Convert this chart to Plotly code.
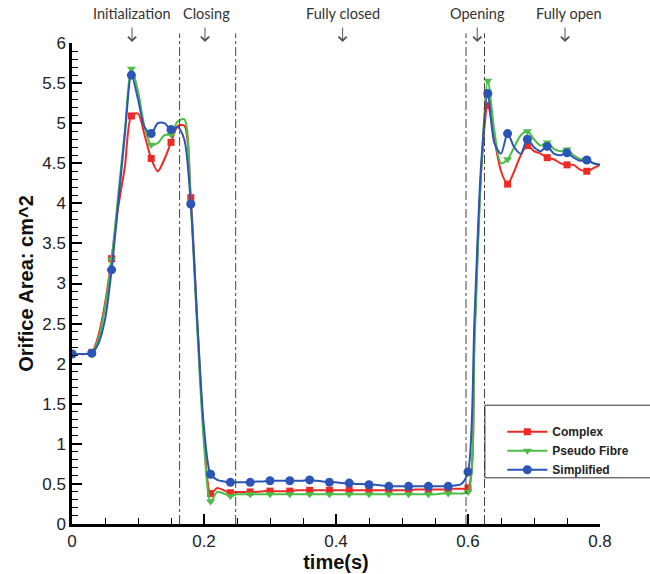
import plotly.graph_objects as go

# ---- data ----
time_s = [round(i * 0.01, 2) for i in range(81)]

complex_area = [
    2.12, 2.12, 2.12, 2.14, 2.35, 2.75, 3.31, 3.95, 4.45, 5.09,
    5.12, 4.85, 4.56, 4.40, 4.55, 4.76, 4.96, 4.97, 4.07, 2.50,
    1.10, 0.38, 0.45, 0.42, 0.39, 0.40, 0.40, 0.40, 0.40, 0.41,
    0.41, 0.41, 0.41, 0.41, 0.42, 0.42, 0.42, 0.42, 0.42, 0.42,
    0.42, 0.42, 0.42, 0.42, 0.42, 0.42, 0.42, 0.42, 0.42, 0.42,
    0.42, 0.42, 0.43, 0.43, 0.43, 0.43, 0.43, 0.43, 0.44, 0.44,
    0.45, 2.40, 4.40, 5.22, 4.80, 4.40, 4.24, 4.40, 4.60, 4.72,
    4.65, 4.62, 4.57, 4.55, 4.50, 4.48, 4.48, 4.42, 4.40, 4.44,
    4.48,
]

pseudo_fibre_area = [
    2.12, 2.12, 2.12, 2.13, 2.30, 2.70, 3.30, 4.10, 4.90, 5.68,
    5.40, 4.95, 4.73, 4.75, 4.85, 4.86, 5.02, 5.05, 4.00, 2.40,
    1.00, 0.28, 0.40, 0.38, 0.35, 0.37, 0.37, 0.37, 0.37, 0.37,
    0.37, 0.37, 0.37, 0.37, 0.37, 0.37, 0.37, 0.37, 0.37, 0.37,
    0.37, 0.37, 0.37, 0.37, 0.37, 0.37, 0.37, 0.37, 0.37, 0.37,
    0.37, 0.37, 0.37, 0.37, 0.37, 0.37, 0.38, 0.38, 0.38, 0.38,
    0.40, 2.30, 4.40, 5.53, 4.90, 4.50, 4.55, 4.70, 4.85, 4.90,
    4.80, 4.72, 4.76, 4.68, 4.65, 4.67, 4.60, 4.55, 4.55, 4.50,
    4.48,
]

simplified_area = [
    2.12, 2.12, 2.12, 2.13, 2.25, 2.55, 3.17, 4.00, 4.85, 5.60,
    5.30, 4.95, 4.87, 5.00, 5.00, 4.92, 4.95, 4.80, 3.99, 2.50,
    1.20, 0.62, 0.55, 0.53, 0.52, 0.52, 0.52, 0.52, 0.53, 0.53,
    0.54, 0.54, 0.54, 0.54, 0.54, 0.54, 0.55, 0.54, 0.53, 0.52,
    0.52, 0.51, 0.51, 0.50, 0.50, 0.49, 0.49, 0.48, 0.47, 0.47,
    0.47, 0.47, 0.47, 0.47, 0.47, 0.47, 0.47, 0.47, 0.48, 0.50,
    0.65, 2.60, 4.50, 5.37, 4.75, 4.62, 4.87, 4.70, 4.62, 4.80,
    4.70, 4.65, 4.71, 4.62, 4.60, 4.63, 4.57, 4.53, 4.54, 4.50,
    4.48,
]

marker_step = 3  # a marker every 0.03 s

phase_boundaries = [0.163, 0.248, 0.597, 0.625]
phase_labels = ["Initialization", "Closing", "Fully closed", "Opening", "Fully open"]
phase_label_x = [0.09, 0.2035, 0.41, 0.615, 0.753]
phase_arrow_x = [0.091, 0.2015, 0.41, 0.614, 0.747]

x_ticks = [0, 0.2, 0.4, 0.6, 0.8]
x_tick_text = ["0", "0.2", "0.4", "0.6", "0.8"]
y_ticks = [0, 0.5, 1, 1.5, 2, 2.5, 3, 3.5, 4, 4.5, 5, 5.5, 6]
y_tick_text = ["0", "0.5", "1", "1.5", "2", "2.5", "3", "3.5", "4", "4.5", "5", "5.5", "6"]

series = [
    ("Complex", complex_area, "#ee2a24", "square", 7),
    ("Pseudo Fibre", pseudo_fibre_area, "#4dbd47", "triangle-down", 8),
    ("Simplified", simplified_area, "#2c55b8", "circle", 9),
]

fig = go.Figure()
for name, vals, color, sym, msize in series:
    fig.add_trace(go.Scatter(
        x=time_s, y=vals, mode="lines",
        line=dict(color=color, width=2, shape="spline", smoothing=0.8),
        showlegend=False, hoverinfo="skip",
    ))
    fig.add_trace(go.Scatter(
        x=time_s[::marker_step], y=vals[::marker_step], mode="markers",
        marker=dict(color=color, symbol=sym, size=msize),
        showlegend=False, name=name,
    ))
    fig.add_trace(go.Scatter(
        x=[None], y=[None], mode="lines+markers", name=name,
        line=dict(color=color, width=2),
        marker=dict(color=color, symbol=sym, size=msize),
    ))

shapes = []
for b in phase_boundaries:
    shapes.append(dict(type="line", xref="x", yref="paper", x0=b, x1=b, y0=0, y1=1.02,
                       line=dict(color="#444", width=1, dash="dashdot")))
# legend frame
shapes.append(dict(type="rect", xref="paper", yref="paper", x0=0.782, x1=1.2, y0=0.096, y1=0.247,
                   line=dict(color="#333", width=1), fillcolor="rgba(0,0,0,0)"))

annotations = []
for lab, lx, ax_ in zip(phase_labels, phase_label_x, phase_arrow_x):
    annotations.append(dict(x=ax_, y=1.0, xref="x", yref="paper", text="", showarrow=True,
                            ax=0, ay=-17, arrowhead=4, arrowsize=1.6, arrowwidth=1,
                            arrowcolor="#555", standoff=1))
    annotations.append(dict(x=lx, y=1.0, xref="x", yref="paper", text=lab, showarrow=False,
                            yshift=19, yanchor="bottom",
                            font=dict(family="Lato", size=14.5, color="#333")))

fig.update_layout(
    width=650, height=574,
    margin=dict(l=72, r=50, t=43, b=50),
    paper_bgcolor="white", plot_bgcolor="white",
    shapes=shapes, annotations=annotations,
    legend=dict(x=0.815, y=0.222, xanchor="left", yanchor="top",
                bgcolor="rgba(0,0,0,0)", borderwidth=0,
                font=dict(family="Liberation Sans", size=12, color="#222", weight="bold"),
                tracegroupgap=0, itemwidth=40),
    font=dict(family="Liberation Sans", color="#222"),
)
fig.update_xaxes(
    range=[0, 0.8], tickvals=x_ticks, ticktext=x_tick_text, automargin=False,
    showgrid=False, zeroline=False, showline=True, linecolor="black", linewidth=2.5,
    ticks="inside", ticklen=10, tickwidth=2, tickcolor="black",
    tickfont=dict(size=17, family="Liberation Sans", color="#222"),
    minor=dict(dtick=0.05, ticks="inside", ticklen=6, tickwidth=1, tickcolor="black", showgrid=False),
    title=dict(text="<b>time(s)</b>", font=dict(size=20, family="Liberation Sans", color="#111"), standoff=0),
)
fig.update_yaxes(
    range=[0, 6], tickvals=y_ticks, ticktext=y_tick_text, automargin=False,
    showgrid=False, zeroline=False, showline=True, linecolor="black", linewidth=2.5,
    ticks="inside", ticklen=10, tickwidth=2, tickcolor="black",
    tickfont=dict(size=17, family="Liberation Sans", color="#222"),
    minor=dict(dtick=0.1, ticks="inside", ticklen=6, tickwidth=1, tickcolor="black", showgrid=False),
    title=dict(text="<b>Orifice Area: cm^2</b>", font=dict(size=20, family="Liberation Sans", color="#111"), standoff=4),
)

fig.write_html("out.html", config={"displayModeBar": False},
               post_script="document.body.style.margin='0';document.body.style.overflow='hidden';")
